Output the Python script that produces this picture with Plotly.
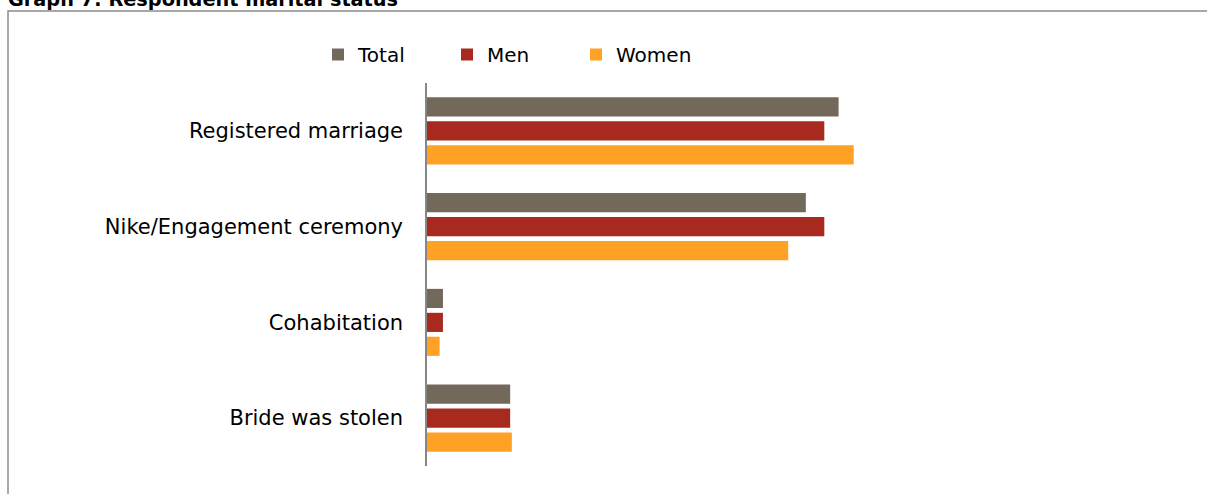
import plotly.graph_objects as go

categories = ["Registered marriage", "Nike/Engagement ceremony", "Cohabitation", "Bride was stolen"]
total = [49.0, 45.1, 1.9, 9.9]
men = [47.3, 47.3, 1.9, 9.9]
women = [50.8, 43.0, 1.5, 10.1]

colors = {"Total": "#72695A", "Men": "#A82A1F", "Women": "#FFA125"}
FONT = "DejaVu Sans"

W, H = 1207, 494
L, R, T, B = 427, 20, 83, 28
pw = W - L - R
ph = H - T - B
scale = 8.4  # px per unit
xmax = pw / scale

fig = go.Figure()
for name, vals in [("Total", total), ("Men", men), ("Women", women)]:
    fig.add_trace(go.Bar(
        y=categories, x=vals, name=name, orientation="h",
        marker=dict(color=colors[name], line=dict(width=0)),
    ))

def px_x(x):
    return (x - L) / pw

def px_y(y):
    return (H - B - y) / ph

fig.update_layout(
    width=W, height=H,
    margin=dict(l=L, r=R, t=T, b=B),
    paper_bgcolor="white", plot_bgcolor="white",
    barmode="group", bargap=0.25, bargroupgap=0.2,
    font=dict(family=FONT, size=20, color="#000000"),
    showlegend=True,
    legend=dict(
        orientation="h", x=px_x(318), y=px_y(35), xanchor="left", yanchor="top",
        font=dict(family=FONT, size=20, color="#000000"),
        entrywidth=84, entrywidthmode="pixels", itemsizing="constant",
        bgcolor="rgba(0,0,0,0)",
    ),
    xaxis=dict(range=[0, xmax], visible=False, showgrid=False, zeroline=False),
    yaxis=dict(
        autorange="reversed", showline=True, linecolor="#868686", linewidth=1.5,
        ticks="", ticklabelstandoff=18, showgrid=False, zeroline=False,
        tickfont=dict(family=FONT, size=21, color="#000000"),
    ),
    shapes=[dict(
        type="rect", xref="paper", yref="paper",
        x0=px_x(8), x1=px_x(1230), y0=px_y(520), y1=px_y(11),
        line=dict(color="#8C8C8C", width=1.5), fillcolor="rgba(0,0,0,0)", layer="below",
    )],
    annotations=[dict(
        text="<b>Graph 7: Respondent marital status</b>", xref="paper", yref="paper",
        x=px_x(6), y=px_y(13), xanchor="left", yanchor="bottom", showarrow=False,
        font=dict(family=FONT, size=19.3, color="#000000"),
    )],
)

fig.write_html("out.html")
